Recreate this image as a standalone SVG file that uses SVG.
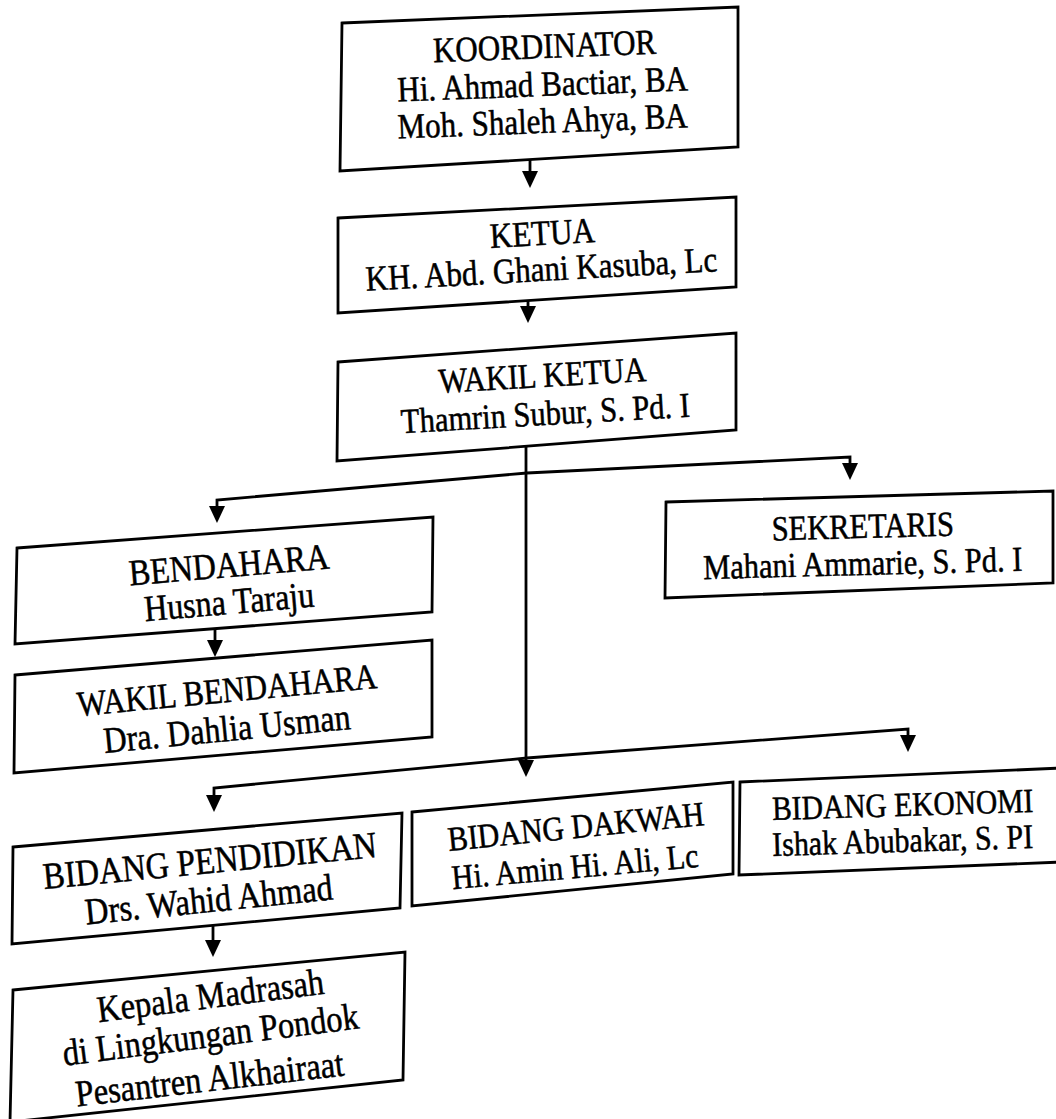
<svg xmlns="http://www.w3.org/2000/svg" width="1056" height="1119" viewBox="0 0 1056 1119">
<style>
.box{fill:#fff;stroke:#000;stroke-width:2.8;stroke-linejoin:miter}
.con{fill:none;stroke:#000;stroke-width:2.8}
text{font-family:"Liberation Serif","Times New Roman",serif;fill:#000;stroke:#000;stroke-width:0.45;text-anchor:middle}
</style>
<defs>
<marker id="ah" viewBox="0 0 17 16" refX="6" refY="8" markerWidth="17" markerHeight="16" markerUnits="userSpaceOnUse" orient="auto">
<path d="M0,0 L17,8 L0,16 Z" fill="#000"/>
</marker>
</defs>
<rect width="1056" height="1119" fill="#fff"/>
<g id="connectors">
<path class="con" d="M530,160 V177" marker-end="url(#ah)"/>
<path class="con" d="M528,301 V312" marker-end="url(#ah)"/>
<path class="con" d="M526,446 V766" marker-end="url(#ah)"/>
<path class="con" d="M527,473 L217,500 L217,512" marker-end="url(#ah)"/>
<path class="con" d="M527,473 L850,457 L850,469" marker-end="url(#ah)"/>
<path class="con" d="M215,629 V646" marker-end="url(#ah)"/>
<path class="con" d="M527,758 L214,788 L214,801" marker-end="url(#ah)"/>
<path class="con" d="M527,758 L908,729 L908,741" marker-end="url(#ah)"/>
<path class="con" d="M213,926 V946" marker-end="url(#ah)"/>
</g>
<g id="koordinator">
<polygon class="box" points="342,23 738,7 738,147 340,171"/>
<text font-size="31" transform="translate(545,58) rotate(-2.2) scale(1,1.15)">KOORDINATOR</text>
<text font-size="31" transform="translate(543,96) rotate(-2.2) scale(1,1.15)">Hi. Ahmad Bactiar, BA</text>
<text font-size="31" transform="translate(543,133) rotate(-2.2) scale(1,1.15)">Moh. Shaleh Ahya, BA</text>
</g>
<g id="ketua">
<polygon class="box" points="338,218 736,197 736,287 338,313"/>
<text font-size="31" transform="translate(543,245) rotate(-3.2) scale(1,1.15)">KETUA</text>
<text font-size="31" transform="translate(542,281) rotate(-3.2) scale(1,1.15)">KH. Abd. Ghani Kasuba, Lc</text>
</g>
<g id="wakil-ketua">
<polygon class="box" points="338,362 736,333 736,430 337,461"/>
<text font-size="30.5" transform="translate(543,387) rotate(-3.3) scale(1,1.15)">WAKIL KETUA</text>
<text font-size="30.5" transform="translate(546,425) rotate(-3.3) scale(1,1.15)">Thamrin Subur, S. Pd. I</text>
</g>
<g id="sekretaris">
<polygon class="box" points="666,502 1053,491 1053,583 665,598"/>
<text font-size="30.5" transform="translate(863,538) rotate(-1.5) scale(1,1.15)">SEKRETARIS</text>
<text font-size="30.5" transform="translate(863,575) rotate(-1.5) scale(1,1.15)">Mahani Ammarie, S. Pd. I</text>
</g>
<g id="bendahara">
<polygon class="box" points="17,548 433,517 432,612 15,644"/>
<text font-size="32" transform="translate(230,577) rotate(-4.9) scale(1,1.15)">BENDAHARA</text>
<text font-size="32" transform="translate(230,614) rotate(-4.9) scale(1,1.15)">Husna Taraju</text>
</g>
<g id="wakil-bendahara">
<polygon class="box" points="15,675 432,640 432,737 14,773"/>
<text font-size="31" transform="translate(228,702) rotate(-5.4) scale(1,1.15)">WAKIL BENDAHARA</text>
<text font-size="32" transform="translate(228,741) rotate(-5.6) scale(1,1.15)">Dra. Dahlia Usman</text>
</g>
<g id="bidang-pendidikan">
<polygon class="box" points="13,847 402,813 400,908 12,944"/>
<text font-size="32.5" transform="translate(211,873) rotate(-5.5) scale(1,1.15)">BIDANG PENDIDIKAN</text>
<text font-size="32.5" transform="translate(210,912) rotate(-5.8) scale(1,1.15)">Drs. Wahid Ahmad</text>
</g>
<g id="bidang-dakwah">
<polygon class="box" points="412,812 733,782 733,874 412,906"/>
<text font-size="30" transform="translate(577,838) rotate(-5.8) scale(1,1.15)">BIDANG DAKWAH</text>
<text font-size="30" transform="translate(576,878) rotate(-5.2) scale(1,1.15)">Hi. Amin Hi. Ali, Lc</text>
</g>
<g id="bidang-ekonomi">
<polygon class="box" points="740,782 1062,768 1062,862 739,875"/>
<text font-size="29.5" transform="translate(903,816) rotate(-1.8) scale(1,1.15)">BIDANG EKONOMI</text>
<text font-size="30" transform="translate(903,852) rotate(-1.8) scale(1,1.15)">Ishak Abubakar, S. PI</text>
</g>
<g id="kepala-madrasah">
<polygon class="box" points="13,990 405,952 403,1080 10,1122"/>
<text font-size="32.5" transform="translate(212,1008) rotate(-7.2) scale(1,1.15)">Kepala Madrasah</text>
<text font-size="32.5" transform="translate(212,1047) rotate(-7.2) scale(1,1.15)">di Lingkungan Pondok</text>
<text font-size="32.5" transform="translate(211,1091) rotate(-6.6) scale(1,1.15)">Pesantren Alkhairaat</text>
</g>
</svg>
